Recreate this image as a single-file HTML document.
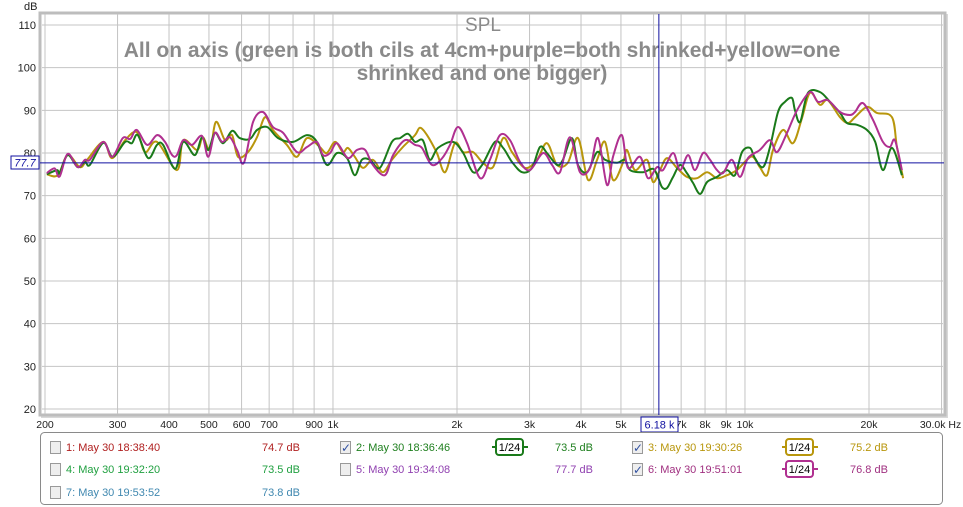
<!DOCTYPE html>
<html><head><meta charset="utf-8"><style>
body{margin:0;background:#fff;width:963px;height:507px;overflow:hidden;font-family:"Liberation Sans",sans-serif}
svg{display:block}
</style></head><body>
<svg width="963" height="507" viewBox="0 0 963 507" xmlns="http://www.w3.org/2000/svg" font-family="Liberation Sans, sans-serif">
<rect x="41" y="14" width="907" height="404" fill="#d8d8d8"/>
<rect x="40" y="13" width="905" height="402" fill="#fff" stroke="#bdbdbd" stroke-width="3"/>
<g id="grid"></g>
<g id="ylabels" font-size="11" fill="#222" text-anchor="end"></g>
<g id="xlabels" font-size="10.5" fill="#222" text-anchor="middle"></g>
<text x="24" y="10" font-size="11" fill="#222">dB</text>
<g font-weight="bold" fill="#8a8a8a" text-anchor="middle">
<text x="483" y="31" font-size="19" font-weight="normal">SPL</text>
<text x="482" y="57" font-size="21">All on axis (green is both cils at 4cm+purple=both shrinked+yellow=one</text>
<text x="482" y="80" font-size="21">shrinked and one bigger)</text>
</g>
<g id="series"></g>
<line id="ch" x1="40" x2="944" stroke="#1010a0" stroke-width="1"/>
<line id="cv" y1="14" y2="415" stroke="#1010a0" stroke-width="1"/>
<rect x="11" y="156" width="28" height="13" fill="#fff" stroke="#1010a0"/>
<text x="25" y="166.5" font-size="11" font-style="italic" fill="#1010a0" text-anchor="middle">77.7</text>
<rect x="641" y="417" width="37" height="15" fill="#fff" stroke="#1010a0"/>
<text x="659.5" y="428.5" font-size="11" fill="#1010a0" text-anchor="middle">6.18 k</text>

<rect x="40.5" y="432.5" width="902" height="72" rx="4" fill="#fff" stroke="#8a8a8a"/>
<g font-size="11">
<g><rect x="50.5" y="441.5" width="10" height="12" fill="#eee" stroke="#999"/><text x="66" y="451" fill="#b02020">1: May 30 18:38:40</text><text x="262" y="451" fill="#b02020">74.7 dB</text></g>
<g><rect x="340.5" y="441.5" width="10" height="12" fill="#eee" stroke="#999"/><text x="341" y="452" fill="#3050a0" font-size="12">✓</text><text x="356" y="451" fill="#208020">2: May 30 18:36:46</text>
<line x1="492" y1="447" x2="528" y2="447" stroke="#1a7a1a" stroke-width="2"/><rect x="496" y="439" width="27" height="16" rx="3" fill="#fff" stroke="#1a7a1a" stroke-width="2"/><text x="509.5" y="451" text-anchor="middle" fill="#000" font-size="11">1/24</text>
<text x="555" y="451" fill="#208020">73.5 dB</text></g>
<g><rect x="632.5" y="441.5" width="10" height="12" fill="#eee" stroke="#999"/><text x="633" y="452" fill="#3050a0" font-size="12">✓</text><text x="648" y="451" fill="#b8960c">3: May 30 19:30:26</text>
<line x1="782" y1="447" x2="818" y2="447" stroke="#b8960c" stroke-width="2"/><rect x="786" y="439" width="27" height="16" rx="3" fill="#fff" stroke="#b8960c" stroke-width="2"/><text x="799.5" y="451" text-anchor="middle" fill="#000">1/24</text>
<text x="850" y="451" fill="#b8960c">75.2 dB</text></g>
<g><rect x="50.5" y="463.5" width="10" height="12" fill="#eee" stroke="#999"/><text x="66" y="473" fill="#20a040">4: May 30 19:32:20</text><text x="262" y="473" fill="#20a040">73.5 dB</text></g>
<g><rect x="340.5" y="463.5" width="10" height="12" fill="#eee" stroke="#999"/><text x="356" y="473" fill="#9040b0">5: May 30 19:34:08</text><text x="555" y="473" fill="#9040b0">77.7 dB</text></g>
<g><rect x="632.5" y="463.5" width="10" height="12" fill="#eee" stroke="#999"/><text x="633" y="474" fill="#3050a0" font-size="12">✓</text><text x="648" y="473" fill="#a03080">6: May 30 19:51:01</text>
<line x1="782" y1="469" x2="818" y2="469" stroke="#b03090" stroke-width="2"/><rect x="786" y="461" width="27" height="16" rx="3" fill="#fff" stroke="#b03090" stroke-width="2"/><text x="799.5" y="473" text-anchor="middle" fill="#000">1/24</text>
<text x="850" y="473" fill="#a03080">76.8 dB</text></g>
<g><rect x="50.5" y="486.5" width="10" height="12" fill="#eee" stroke="#999"/><text x="66" y="496" fill="#4088b0">7: May 30 19:53:52</text><text x="262" y="496" fill="#4088b0">73.8 dB</text></g>
</g>
</svg>
<script>
const yTicks=[110,100,90,80,70,60,50,40,30,20];
const xGrid=[200,300,400,500,600,700,800,900,1000,2000,3000,4000,5000,6000,7000,8000,9000,10000,20000,30000];
const xTickLabels=[[200,"200"],[300,"300"],[400,"400"],[500,"500"],[600,"600"],[700,"700"],[900,"900"],[1000,"1k"],[2000,"2k"],[3000,"3k"],[4000,"4k"],[5000,"5k"],[7000,"7k"],[8000,"8k"],[9000,"9k"],[10000,"10k"],[20000,"20k"],[30000,"30.0k Hz"]];
const cursorFreq=6180, cursorDb=77.7;
const greenF=[202,214,217,227,240,250,257,277,292,313,325,336,356,374,387,414,433,462,481,498,517,541,569,594,629,654,692,736,800,865,914,966,1023,1082,1130,1175,1230,1300,1390,1455,1521,1582,1652,1718,1799,1954,2070,2188,2301,2472,2588,2720,2877,3041,3181,3306,3498,3614,3802,3933,4137,4375,4574,4890,5113,5259,5655,5981,6148,6288,6467,6690,6954,7229,7478,7782,8091,8551,9044,9454,9834,10282,10570,11062,11502,12028,12506,13004,13226,13612,14224,15202,16070,17008,17690,18704,19778,20700,21620,22740,24040];
const greenDb=[75.0,76,75.3,79.5,76.7,77.9,77.2,82.4,79.1,82.6,82.3,84.2,78.8,81.9,81.9,76.3,82.6,79.5,83.7,80.7,84.7,82.3,85.2,83.5,83.3,85.4,86.1,83.5,82.6,84.2,82.6,77.2,80.0,78.8,74.8,78.4,78.4,76.5,82.6,83.5,84.5,82.6,83.0,78.4,81.2,82.6,80.0,75.5,77.2,82.6,81.2,77.9,75.5,76.5,81.4,80,77.2,78.4,83.5,77.2,75.5,80.2,78.4,77.7,78.4,76.0,75.5,76.3,74.4,72.0,71.8,74.4,77.2,75.3,73.0,70.4,73.2,74.4,76.0,74.8,80.2,81.2,78.8,76.7,81.4,89.6,92.0,92.9,90.0,87.3,94.1,94.3,92.0,89.4,87.0,86.6,85.4,82.6,76.0,81.2,74.8];
const yellowF=[202,215,227,243,253,277,291,313,334,350,374,418,433,468,483,503,520,547,569,588,622,654,684,715,773,818,865,929,966,1012,1057,1087,1130,1183,1250,1321,1390,1478,1582,1626,1691,1787,1871,1977,2070,2188,2313,2446,2588,2720,2924,3128,3306,3498,3716,3933,4160,4375,4574,4784,5056,5171,5408,5783,5981,6218,6467,6841,7229,7648,8091,8551,9044,9560,10110,10454,10866,11310,11696,12368,13080,13754,14384,15202,15886,17008,17790,18494,19778,20900,22740,23380,24200];
const yellowDb=[75,74.8,79.5,76.7,78.4,82.6,78.8,83.0,84.9,80.2,82.6,76.0,83.0,80.7,83.7,80.7,87.3,83.0,84.2,79.1,80.2,83.7,88.4,85.4,81.9,79.1,83.5,81.4,80.0,82.6,80.2,81.2,79.1,76.5,78.4,75.5,78.4,81.4,84.2,85.9,84.2,80.0,75.5,82.3,80.2,80.2,77.7,76.7,83.5,80.2,76.5,78.4,82.3,77.2,77.7,83.5,73.7,78.4,82.6,73.7,77.7,80.7,76.0,78.4,73.2,76.0,78.8,76.5,74.4,74.1,75.5,74.1,74.8,76.0,78.4,79.1,76.7,74.8,80.7,85.4,82.3,88.2,94.1,91.3,92.4,88.4,87.0,88.4,90.8,89.4,88.4,81.4,74.1];
const purpleF=[202,211,217,227,240,250,257,277,291,309,322,334,354,374,391,407,418,433,455,481,498,517,538,562,585,608,640,676,715,757,818,865,914,946,984,1023,1087,1143,1197,1250,1337,1399,1495,1582,1644,1738,1841,1923,2010,2116,2275,2404,2543,2690,2845,3006,3236,3401,3556,3758,3978,4207,4398,4626,4784,5024,5200,5562,5816,6115,6324,6690,6954,7275,7561,7914,8224,8551,8847,9297,9726,10168,10866,11502,11960,12648,13374,14384,15032,15886,17008,17990,18494,19332,20460,21620,22480,23120,24040];
const purpleDb=[75.3,76.4,74.5,79.8,76.7,78.4,78.4,82.6,79.1,83.5,83.3,85.4,81.9,84.2,82.6,79.5,79.5,83.0,81.9,84.0,79.1,84.7,82.6,83.7,80.7,77.7,87.3,89.6,86.1,84.7,80.2,81.4,82.6,79.5,80.0,82.3,78.8,80.7,80.7,77.2,74.8,79.5,83.0,81.9,81.2,77.2,78.8,81.9,86.1,82.3,74.1,78.4,84.2,83.0,77.9,76.0,80.0,77.2,75.5,83.7,75.5,76.5,83.5,72.5,79.1,84.2,76.5,79.1,74.1,76.7,76.0,80.0,76.0,79.5,76.0,80.0,78.4,76.0,75.3,78.4,74.4,78.8,80.7,83.0,80.2,84.7,90.0,94.3,92.0,92.4,89.6,88.9,89.6,91.7,87.7,82.6,81.4,83.0,76.0];

const X0=45,DEC=412,Y110=25,PXDB=384/90;
const xs=f=>X0+(Math.log10(f)-Math.log10(200))*DEC;
const ys=d=>Y110+(110-d)*PXDB;
const NS="http://www.w3.org/2000/svg";
function mk(t,a,p){const e=document.createElementNS(NS,t);for(const k in a)e.setAttribute(k,a[k]);p.appendChild(e);return e;}
const grid=document.getElementById('grid');
yTicks.forEach(v=>{const l=mk('line',{x1:42,x2:943,y1:ys(v),y2:ys(v),stroke:'#c4c4c4'},grid);

});
xGrid.forEach(f=>{const l=mk('line',{x1:xs(f),x2:xs(f),y1:14,y2:414,stroke:'#c4c4c4'},grid);

});
const yl=document.getElementById('ylabels');
yTicks.forEach(v=>{const t=mk('text',{x:36,y:ys(v)+4},yl);t.textContent=v;

});
const xl=document.getElementById('xlabels');
xTickLabels.forEach(([f,s])=>{const t=mk('text',{x:xs(f)+(s.indexOf('Hz')>0?-1:0),y:428},xl);t.textContent=s;

});
function path(F,D){const p=F.map((f,i)=>[xs(f),ys(D[i])]);let d='M'+p[0][0].toFixed(1)+','+p[0][1].toFixed(1);
for(let i=0;i<p.length-1;i++){const a=p[i-1]||p[i],b=p[i],c=p[i+1],e=p[i+2]||c;
d+=' C'+(b[0]+(c[0]-a[0])/6).toFixed(1)+','+(b[1]+(c[1]-a[1])/6).toFixed(1)+' '+(c[0]-(e[0]-b[0])/6).toFixed(1)+','+(c[1]-(e[1]-b[1])/6).toFixed(1)+' '+c[0].toFixed(1)+','+c[1].toFixed(1);}
return d;}
const sg=document.getElementById('series');
[[yellowF,yellowDb,'#b8960c','series-yellow'],[greenF,greenDb,'#1a7a1a','series-green'],[purpleF,purpleDb,'#b03090','series-purple']].forEach(([F,D,c,n])=>{
const e=mk('path',{d:path(F,D),fill:'none',stroke:c,'stroke-width':2,'stroke-linejoin':'round'},sg);

});
const ch=document.getElementById('ch');ch.setAttribute('y1',ys(cursorDb));ch.setAttribute('y2',ys(cursorDb));
const cv=document.getElementById('cv');cv.setAttribute('x1',xs(cursorFreq));cv.setAttribute('x2',xs(cursorFreq));
</script>
</body></html>
